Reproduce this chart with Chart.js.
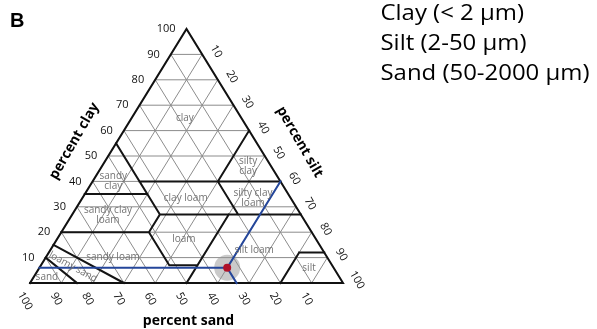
<!DOCTYPE html>
<html>
<head>
<meta charset="utf-8">
<script src="https://cdn.jsdelivr.net/npm/chart.js@4/dist/chart.umd.min.js"></script>
<style>
  html, body { margin: 0; padding: 0; background: #ffffff; overflow: hidden; }
  canvas { display: block; }
</style>
</head>
<body>
<canvas id="triangle" width="597" height="329"></canvas>
<script>
// ---- data -------------------------------------------------------------
// percentage ticks shared by all three sides
const tickValues = [10, 20, 30, 40, 50, 60, 70, 80, 90, 100];

// USDA texture classes and the composition (clay %, silt %) where each name sits
const textureNames = ['clay', 'silty\nclay', 'sandy\nclay', 'silty clay\nloam', 'clay loam',
  'sandy clay\nloam', 'loam', 'silt loam', 'sandy loam', 'loamy sand', 'sand', 'silt'];
const textureLabelClay = [65, 46, 40, 33.5, 33.5, 26.6, 17.3, 13, 10.2, 6.3, 2.4, 5.9];
const textureLabelSilt = [17, 46.7, 6.6, 54.5, 33, 11.6, 40.5, 65.1, 21.4, 10.6, 4.2, 86.2];

// class boundaries: polylines of [clay %, silt %] vertices
const classBoundaries = [
  [[55, 0], [27, 28]],                     // sand = 45
  [[40, 15], [40, 60]],                    // clay = 40
  [[35, 0], [35, 20]],                     // clay = 35
  [[27, 28], [27, 73]],                    // clay = 27
  [[60, 40], [40, 40]],                    // silt = 40
  [[40, 40], [27, 53]],                    // sand = 20
  [[27, 28], [20, 28]],                    // silt = 28
  [[20, 0], [20, 28], [7, 41], [7, 50]],   // clay 20, sand 52, clay 7
  [[0, 50], [27, 50]],                     // silt = 50
  [[12, 80], [12, 88]],                    // clay = 12
  [[0, 80], [12, 80]],                     // silt = 80
  [[15, 0], [0, 30]],                      // silt + 2 clay = 30
  [[10, 0], [0, 15]]                       // silt + 1.5 clay = 15
];

// measured sample: clay, silt, sand (%)
const sampleClay = [6];
const sampleSilt = [60];
const sampleSand = [34];

const axisTitles = ['percent clay', 'percent silt', 'percent sand'];
const legendLines = ['Clay (< 2 \u00b5m)', 'Silt (2-50 \u00b5m)', 'Sand (50-2000 \u00b5m)'];
const panelLetter = 'B';

// ---- helpers ------------------------------------------------------------
// ternary composition -> cartesian data units (x: silt + clay/2, y: clay)
function tern(clay, silt) { return { x: silt + clay / 2, y: clay }; }

function polylineData(list) {
  const out = [];
  list.forEach((pl, i) => {
    if (i) out.push({ x: null, y: null });
    pl.forEach(([c, t]) => out.push(tern(c, t)));
  });
  return out;
}

const gridLines = [];
tickValues.filter(v => v < 100).forEach(v => {
  gridLines.push([[v, 0], [v, 100 - v]]);         // constant clay
  gridLines.push([[0, v], [100 - v, v]]);         // constant silt
  gridLines.push([[0, 100 - v], [100 - v, 0]]);   // constant sand
});

const outline = [[[0, 0], [100, 0], [0, 100], [0, 0]]];

const sc = sampleClay[0], st = sampleSilt[0], ss = sampleSand[0];
const guideLines = [
  [[sc, 0], [sc, st]],            // clay level from the clay side
  [[sc, st], [100 - st, st]],     // silt line to the silt side
  [[sc, st], [0, 100 - ss]]       // sand line to the sand side
];

function lineSet(data, color, width, order) {
  return {
    data, borderColor: color, borderWidth: width, pointRadius: 0,
    tension: 0, spanGaps: false, fill: false, clip: false, order,
    borderJoinStyle: 'miter', borderCapStyle: 'square'
  };
}

// ---- text layer -----------------------------------------------------------
const textLayer = {
  id: 'textLayer',
  afterDatasetsDraw(chart) {
    const ctx = chart.ctx;
    const xs = chart.scales.x, ys = chart.scales.y;
    const px = (c, t) => {
      const p = tern(c, t);
      return [xs.getPixelForValue(p.x), ys.getPixelForValue(p.y)];
    };
    ctx.save();

    // texture class names
    ctx.fillStyle = '#737373';
    ctx.font = '10px "Open Sans"';
    ctx.textAlign = 'center';
    ctx.textBaseline = 'middle';
    textureNames.forEach((name, i) => {
      const [x, y] = px(textureLabelClay[i], textureLabelSilt[i]);
      const lines = name.split('\n');
      ctx.save();
      ctx.translate(x, y);
      if (name === 'loamy sand') {
        const [x1, y1] = px(15, 0), [x2, y2] = px(0, 30);
        ctx.rotate(Math.atan2(y2 - y1, x2 - x1));
      }
      lines.forEach((ln, k) => ctx.fillText(ln, 0, (k - (lines.length - 1) / 2) * 10));
      ctx.restore();
    });

    // tick labels
    ctx.fillStyle = '#111111';
    ctx.font = '11px "Open Sans"';
    tickValues.forEach(v => {
      // clay: left side, horizontal
      let [x, y] = px(v, 0);
      ctx.textAlign = 'right';
      ctx.textBaseline = 'middle';
      ctx.fillText(String(v), x - 11, y);
      // silt: right side, rotated
      [x, y] = px(100 - v, v);
      ctx.save();
      ctx.translate(x + 14, y - 3);
      ctx.rotate(Math.PI / 3);
      ctx.textAlign = 'center';
      ctx.fillText(String(v), 0, 0);
      ctx.restore();
      // sand: bottom, rotated
      [x, y] = px(0, 100 - v);
      ctx.save();
      ctx.translate(x - 5, y + 16 + (v === 100 ? 2 : 0));
      ctx.rotate(Math.PI / 3);
      ctx.textAlign = 'center';
      ctx.fillText(String(v), 0, 0);
      ctx.restore();
    });

    // axis titles
    ctx.fillStyle = '#000';
    ctx.font = 'bold 14px "Open Sans"';
    ctx.textAlign = 'center';
    ctx.textBaseline = 'middle';
    let [mx, my] = px(50, 0);
    ctx.save(); ctx.translate(mx - 34, my - 15); ctx.rotate(-Math.PI / 3);
    ctx.fillText(axisTitles[0], 0, 0); ctx.restore();
    [mx, my] = px(50, 50);
    ctx.save(); ctx.translate(mx + 35, my - 14); ctx.rotate(Math.PI / 3);
    ctx.fillText(axisTitles[1], 0, 0); ctx.restore();
    [mx, my] = px(0, 50);
    ctx.fillText(axisTitles[2], mx + 2, my + 38);

    // panel letter
    ctx.font = 'bold 20px "Liberation Sans"';
    ctx.textAlign = 'left';
    ctx.textBaseline = 'alphabetic';
    ctx.fillText(panelLetter, 10, 27);

    // fraction size notes
    ctx.font = '21px "Open Sans"';
    ctx.fillStyle = '#000';
    const widest = Math.max(...legendLines.map(s => ctx.measureText(s).width));
    const sx = 209 / widest;
    legendLines.forEach((s, i) => {
      ctx.save();
      ctx.translate(380.5, 20 + i * 30);
      ctx.scale(sx, 1);
      ctx.fillText(s, 0, 0);
      ctx.restore();
    });

    ctx.restore();
  }
};

// ---- chart ------------------------------------------------------------------
const samplePoint = [tern(sc, st)];

new Chart(document.getElementById('triangle'), {
  type: 'line',
  data: {
    datasets: [
      lineSet(polylineData(gridLines), '#8c8c8c', 1, 6),
      lineSet(polylineData(classBoundaries), '#141414', 2, 5),
      lineSet(polylineData(outline), '#111111', 2, 4),
      {
        data: samplePoint, showLine: false, clip: false, order: 3,
        pointRadius: 13, pointBorderWidth: 0, pointHoverRadius: 13,
        pointBackgroundColor: 'rgba(150,150,150,0.5)'
      },
      lineSet(polylineData(guideLines), '#24469a', 2, 2),
      {
        data: samplePoint, showLine: false, clip: false, order: 1,
        pointRadius: 4, pointBorderWidth: 0, pointHoverRadius: 4,
        pointBackgroundColor: '#b0122a'
      }
    ]
  },
  options: {
    responsive: false,
    animation: false,
    devicePixelRatio: 1,
    layout: { padding: { left: 30, right: 254, top: 29, bottom: 46 } },
    scales: {
      x: { type: 'linear', min: 0, max: 100, display: false },
      y: { type: 'linear', min: 0, max: 100, display: false }
    },
    plugins: { legend: { display: false }, tooltip: { enabled: false } },
    events: []
  },
  plugins: [textLayer]
});
</script>
</body>
</html>
